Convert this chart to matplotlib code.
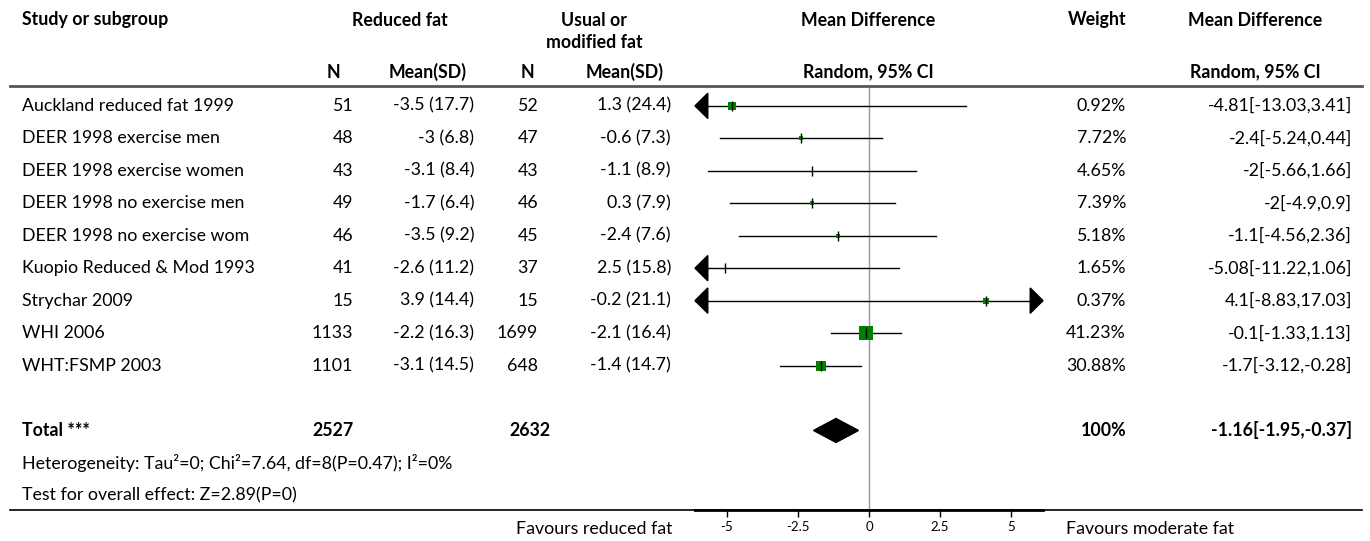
import matplotlib
matplotlib.use("Agg")
import matplotlib.pyplot as plt
from matplotlib.lines import Line2D
from matplotlib.patches import Polygon
import matplotlib.transforms as mtransforms

# Study data
studies = ["Auckland reduced fat 1999", "DEER 1998 exercise men", "DEER 1998 exercise women",
           "DEER 1998 no exercise men", "DEER 1998 no exercise wom", "Kuopio Reduced & Mod 1993",
           "Strychar 2009", "WHI 2006", "WHT:FSMP 2003"]
red_n = [51, 48, 43, 49, 46, 41, 15, 1133, 1101]
red_mean = [-3.5, -3, -3.1, -1.7, -3.5, -2.6, 3.9, -2.2, -3.1]
red_sd = [17.7, 6.8, 8.4, 6.4, 9.2, 11.2, 14.4, 16.3, 14.5]
usu_n = [52, 47, 43, 46, 45, 37, 15, 1699, 648]
usu_mean = [1.3, -0.6, -1.1, 0.3, -2.4, 2.5, -0.2, -2.1, -1.4]
usu_sd = [24.4, 7.3, 8.9, 7.9, 7.6, 15.8, 21.1, 16.4, 14.7]
md = [-4.81, -2.4, -2, -2, -1.1, -5.08, 4.1, -0.1, -1.7]
ci_lo = [-13.03, -5.24, -5.66, -4.9, -4.56, -11.22, -8.83, -1.33, -3.12]
ci_hi = [3.41, 0.44, 1.66, 0.9, 2.36, 1.06, 17.03, 1.13, -0.28]
weights = [0.92, 7.72, 4.65, 7.39, 5.18, 1.65, 0.37, 41.23, 30.88]

total_red_n = 2527
total_usu_n = 2632
total_md = -1.16
total_lo = -1.95
total_hi = -0.37
total_weight = 100

heterogeneity = "Heterogeneity: Tau\u00b2=0; Chi\u00b2=7.64, df=8(P=0.47); I\u00b2=0%"
overall = "Test for overall effect: Z=2.89(P=0)"

tick_vals = [-5, -2.5, 0, 2.5, 5]
tick_labels = ["-5", "-2.5", "0", "2.5", "5"]

# box side in pixels for each study (0 = tick only)
box_px = [8.5, 5, 0, 5, 3.5, 0, 5.5, 13.5, 9.5]

plt.rcParams['font.family'] = ['Lato', 'DejaVu Sans']
FS = 12.8

W, H = 1370, 541
fig = plt.figure(figsize=(W / 100, H / 100), dpi=100)

def fx(x):
    return x / W

def fy(y):
    return 1 - y / H

# forest plot axes
ax = fig.add_axes([fx(695), fy(510), fx(1043) - fx(695), fy(88) - fy(510)])
xmin, xmax = -6.12, 6.12
ax.set_xlim(xmin, xmax)
ax.set_ylim(12.45, -0.55)
for s in ['top', 'left', 'right']:
    ax.spines[s].set_visible(False)
ax.spines['bottom'].set_linewidth(2)
ax.set_yticks([])
ax.set_xticks(tick_vals)
ax.set_xticklabels(tick_labels)
ax.tick_params(axis='x', length=5, width=1, labelsize=9.5, pad=3)
ax.patch.set_alpha(0)

ax.axvline(0, color='#999999', lw=1, zorder=0)

arrow_w = 0.45
arrow_h = 0.39
for i in range(len(studies)):
    lo = max(ci_lo[i], xmin)
    hi = min(ci_hi[i], xmax)
    ax.plot([lo, hi], [i, i], color='black', lw=1, zorder=2)
    if ci_lo[i] < xmin:
        ax.add_patch(Polygon([[xmin, i], [xmin + arrow_w, i - arrow_h], [xmin + arrow_w, i + arrow_h]],
                             closed=True, color='black', zorder=3, clip_on=False))
    if ci_hi[i] > xmax:
        ax.add_patch(Polygon([[xmax, i], [xmax - arrow_w, i - arrow_h], [xmax - arrow_w, i + arrow_h]],
                             closed=True, color='black', zorder=3, clip_on=False))
    if box_px[i] > 0:
        ax.plot(md[i], i, marker='s', color='#008000', markersize=box_px[i] * 0.72,
                markeredgewidth=0, zorder=4)
    ax.plot(md[i], i, marker='|', color='black', markersize=6.5, markeredgewidth=1, zorder=5)

# pooled diamond
tr = 10
ax.add_patch(Polygon([[total_lo, tr], [total_md, tr - 0.37], [total_hi, tr], [total_md, tr + 0.37]],
                     closed=True, color='black', zorder=4))

# table text: x in figure pixels, y in row units
trans = mtransforms.blended_transform_factory(fig.transFigure, ax.transData)

def cell(x, row, s, ha='left', bold=False):
    ax.text(fx(x), row, s, transform=trans, ha=ha, va='center', fontsize=FS,
            fontweight='bold' if bold else 'normal')

for i, name in enumerate(studies):
    cell(22, i, name)
    cell(353, i, f"{red_n[i]}", ha='right')
    cell(474, i, f"{red_mean[i]:g} ({red_sd[i]:g})", ha='right')
    cell(538, i, f"{usu_n[i]}", ha='right')
    cell(671, i, f"{usu_mean[i]:g} ({usu_sd[i]:g})", ha='right')
    cell(1126, i, f"{weights[i]:g}%", ha='right')
    cell(1352, i, f"{md[i]:g}[{ci_lo[i]:g},{ci_hi[i]:g}]", ha='right')

cell(22, tr, "Total ***", bold=True)
cell(354, tr, f"{total_red_n}", ha='right', bold=True)
cell(551, tr, f"{total_usu_n}", ha='right', bold=True)
cell(1126, tr, f"{total_weight:g}%", ha='right', bold=True)
cell(1352, tr, f"{total_md:g}[{total_lo:g},{total_hi:g}]", ha='right', bold=True)
cell(22, 11, heterogeneity)
cell(22, 12, overall)

# headers
def head(x, y, s, ha='center'):
    fig.text(fx(x), fy(y), s, ha=ha, va='center', fontsize=FS, fontweight='bold')

head(22, 20, "Study or subgroup", ha='left')
head(400, 20, "Reduced fat")
head(594, 20, "Usual or")
head(594, 43, "modified fat")
head(868, 20, "Mean Difference")
head(1126, 20, "Weight", ha='right')
head(1255, 20, "Mean Difference")
head(333, 72, "N")
head(428, 72, "Mean(SD)")
head(527, 72, "N")
head(625, 72, "Mean(SD)")
head(868, 72, "Random, 95% CI")
head(1255, 72, "Random, 95% CI")

# rules
fig.add_artist(Line2D([fx(10), fx(1362)], [fy(86), fy(86)], color='#555555', lw=2))
fig.add_artist(Line2D([fx(10), fx(1362)], [fy(510), fy(510)], color='black', lw=1.2))

fig.text(fx(673), fy(529), "Favours reduced fat", ha='right', va='center', fontsize=FS)
fig.text(fx(1066), fy(529), "Favours moderate fat", ha='left', va='center', fontsize=FS)

fig.savefig("out.png", dpi=100)
